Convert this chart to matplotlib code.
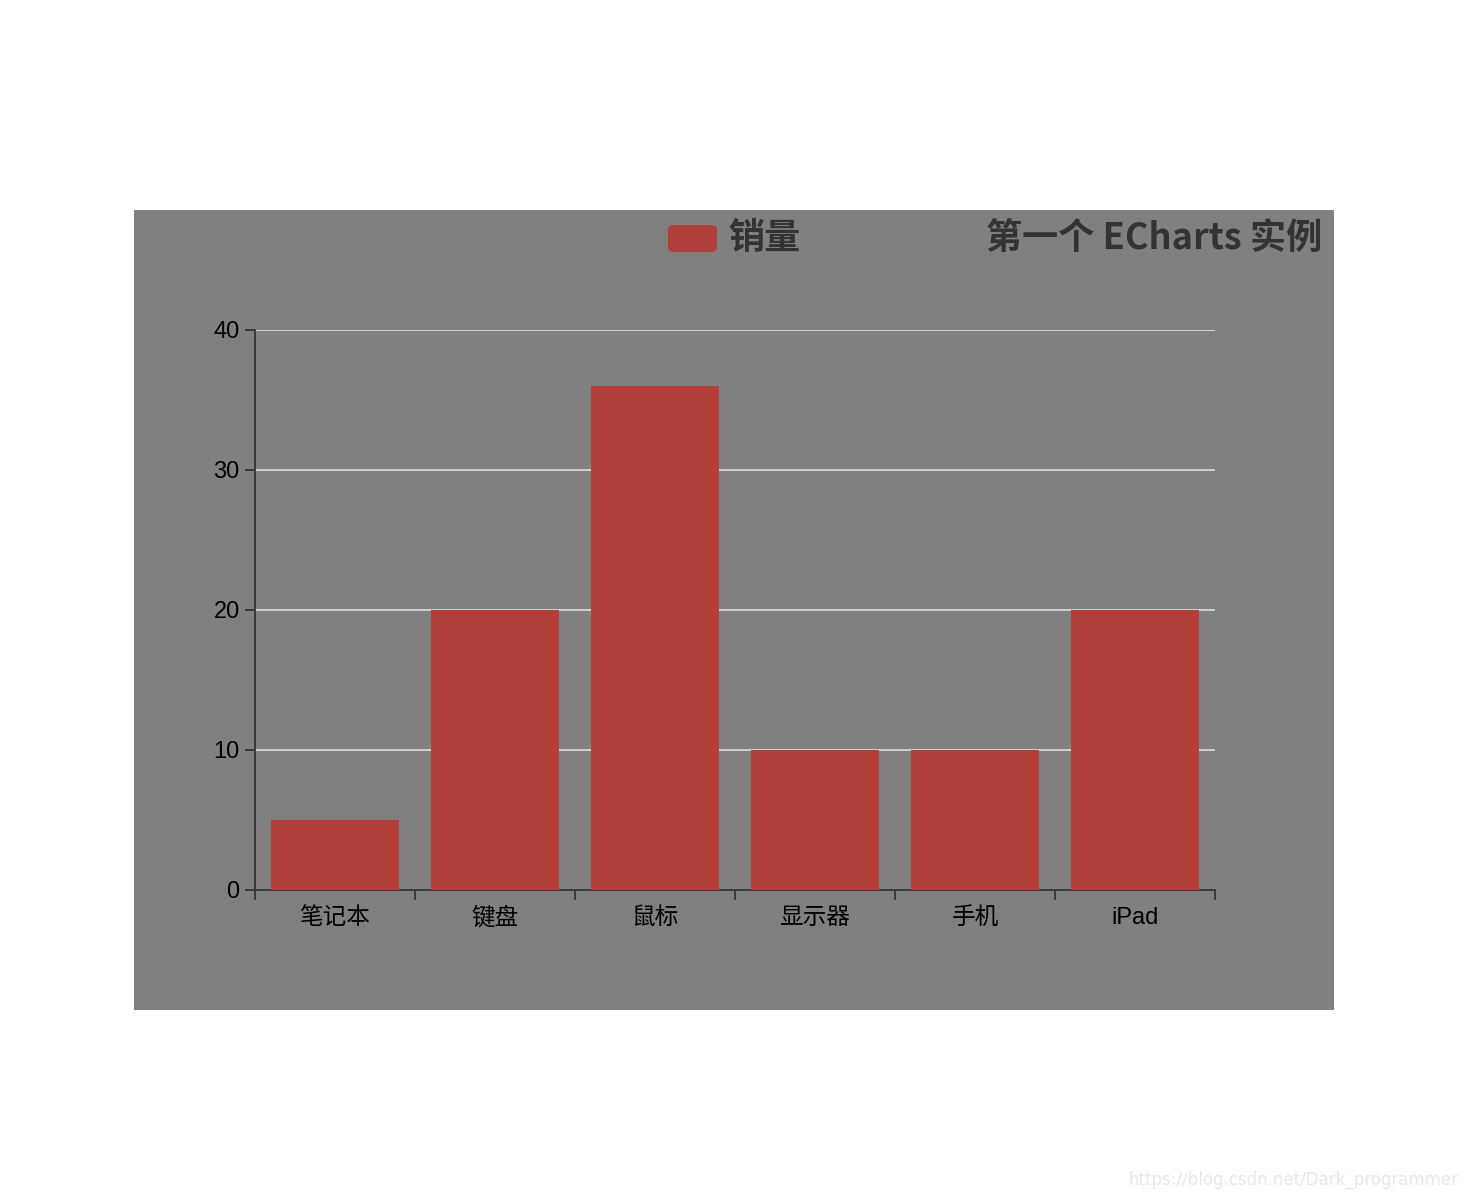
import matplotlib
matplotlib.use("Agg")
import matplotlib.pyplot as plt
from matplotlib.patches import Rectangle, FancyBboxPatch

plt.rcParams['font.family'] = ['Noto Sans CJK SC', 'DejaVu Sans']
tick_family = ['Liberation Sans', 'Noto Sans CJK SC']

categories = ["笔记本", "键盘", "鼠标", "显示器", "手机", "iPad"]
sales = [5, 20, 36, 10, 10, 20]
yticks = [0, 10, 20, 30, 40]
title = "第一个 ECharts 实例"
legend_label = "销量"
watermark = "https://blog.csdn.net/Dark_programmer"

W, H = 1468, 1198
fig = plt.figure(figsize=(W / 100, H / 100), dpi=100)
fig.patch.set_facecolor("white")

# gray chart background
fig.patches.append(Rectangle((134 / W, 1 - 1010 / H), 1200 / W, 800 / H,
                             transform=fig.transFigure, facecolor="#808080",
                             edgecolor="none", zorder=-5))

ax = fig.add_axes([255 / W, 1 - 890 / H, 960 / W, 560 / H])
ax.set_zorder(1)
ax.set_facecolor("none")
bar_color = "#b33f3b"
x = list(range(len(categories)))
ax.bar(x, sales, width=0.8, color=bar_color, zorder=3)
ax.set_xlim(-0.5, len(categories) - 0.5)
ax.set_ylim(0, 40)

ax.set_yticks(yticks)
ax.set_yticklabels([str(v) for v in yticks], fontsize=17, color="black",
                   family=tick_family)
ax.yaxis.grid(True, color="#d9d9d9", linewidth=1.3, zorder=1)
ax.set_axisbelow(True)

# category labels at centers, ticks at boundaries
ax.set_xticks([i - 0.5 for i in range(len(categories) + 1)])
ax.set_xticklabels([])
ax.set_xticks(x, minor=True)
ax.set_xticklabels(categories, minor=True, fontsize=17, color="black",
                   family=tick_family, fontweight="medium")
ax.tick_params(axis="x", which="minor", length=0, pad=12)
ax.tick_params(axis="x", which="major", length=7, width=1.3, color="#333333")
ax.tick_params(axis="y", length=7, width=1.3, color="#333333", pad=4)

for s in ["top", "right"]:
    ax.spines[s].set_visible(False)
for s in ["left", "bottom"]:
    ax.spines[s].set_color("#333333")
    ax.spines[s].set_linewidth(1.3)

# legend handle
fig.patches.append(FancyBboxPatch((668 / W, 1 - 252 / H), 49 / W, 27 / H,
                                  boxstyle="round,pad=0,rounding_size=0.004",
                                  transform=fig.transFigure, facecolor=bar_color,
                                  edgecolor="none", zorder=2))
fig.text(728 / W, 1 - 238 / H, legend_label, fontsize=26, fontweight="bold",
         color="#333333", ha="left", va="center")

fig.text(1322 / W, 1 - 238 / H, title, fontsize=26, fontweight="bold",
         color="#333333", ha="right", va="center")

fig.text(1458 / W, 1 - 1180 / H, watermark, fontsize=12, color="#e8e8e8",
         ha="right", va="center", family=["DejaVu Sans"])

fig.savefig("out.png", dpi=100)
